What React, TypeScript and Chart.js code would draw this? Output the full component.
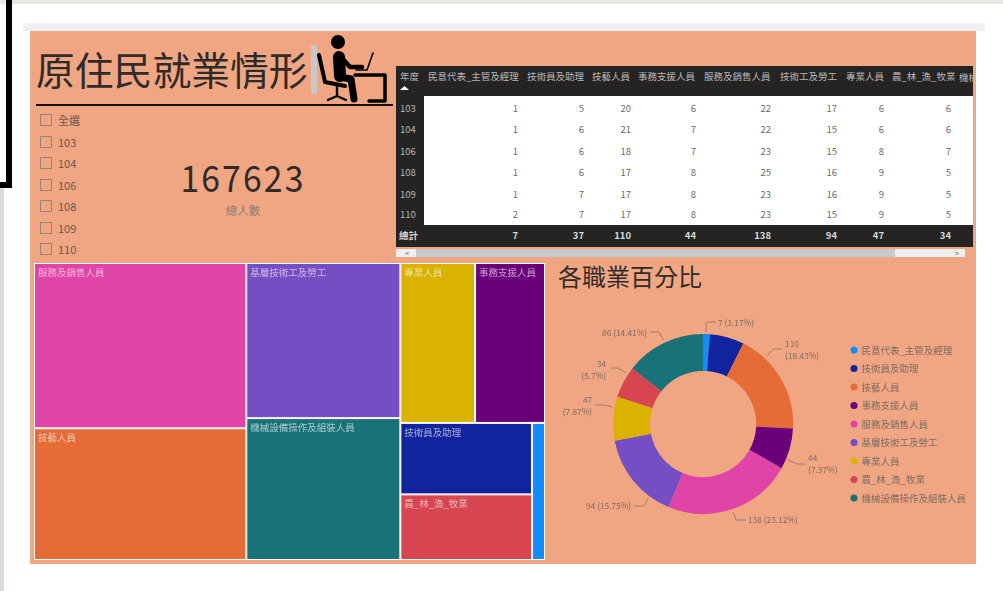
import React, { useEffect, useRef } from "react";
import { Chart, registerables } from "chart.js";

Chart.register(...registerables);

const FONT = '"Noto Sans CJK TC", "Noto Sans", sans-serif';
const BG = "#F0A683";
const INK = "#2f2b29";
const MUTED = "#7d6b60";

const categories = ["民意代表_主管及經理", "技術員及助理", "技藝人員", "事務支援人員", "服務及銷售人員", "基層技術工及勞工", "專業人員", "農_林_漁_牧業", "機械設備操作及組裝人員"];
const totals = [7, 37, 110, 44, 138, 94, 47, 34, 86];
const colors = ["#118DFF", "#12239E", "#E66C37", "#6B007B", "#E044A7", "#744EC2", "#D9B300", "#D64550", "#197278"];

const years = ["103", "104", "106", "108", "109", "110"];
const yearFilter = ["全選", ...years];
const tableHeaders = ["民意代表_主管及經理", "技術員及助理", "技藝人員", "事務支援人員", "服務及銷售人員", "技術工及勞工", "專業人員", "農_林_漁_牧業"];
const col1 = [1, 1, 1, 1, 1, 2];
const col2 = [5, 6, 6, 6, 7, 7];
const col3 = [20, 21, 18, 17, 17, 17];
const col4 = [6, 7, 7, 8, 8, 8];
const col5 = [22, 22, 23, 25, 23, 23];
const col6 = [17, 15, 15, 16, 16, 15];
const col7 = [6, 6, 8, 9, 9, 9];
const col8 = [6, 6, 7, 5, 5, 5];
const tableColumns = [col1, col2, col3, col4, col5, col6, col7, col8];
const tableTotals = [7, 37, 110, 44, 138, 94, 47, 34];
const totalPeople = "167623";

// Horizontal start / right edge of each table column (layout, page pixels)
const colLeft = [428, 527, 592, 638, 704, 780, 846, 892];
const colRight = [518, 584, 631, 696, 771, 837, 884, 951];
const rowY = [109, 130, 152, 173, 194.5, 215];

// Treemap nesting: [column [row [category indexes]]]
const treeColumns = [
  [[4], [2]],
  [[5], [8]],
  [[6, 3], [[1, 7], 0]],
];

// Leader-line layout of the doughnut's annotations, relative to the arc centre
const leaderLayout: Record<number, { pts: number[][]; lines: 1 | 2; align: "left" | "right"; tx: number; ty: number }> = {
  0: { pts: [[3, -92], [3, -102], [13, -102]], lines: 1, align: "left", tx: 15, ty: -101 },
  2: { pts: [[64, -68], [70, -75], [79, -75]], lines: 2, align: "left", tx: 82, ty: -80 },
  3: { pts: [[85, 36], [94, 40], [103, 40]], lines: 2, align: "left", tx: 105, ty: 34 },
  4: { pts: [[30, 88], [33, 96], [43, 96]], lines: 1, align: "left", tx: 45, ty: 96 },
  5: { pts: [[-55, 74], [-59, 82], [-69, 82]], lines: 1, align: "right", tx: -72, ty: 82 },
  6: { pts: [[-91, -17], [-98, -19], [-108, -19]], lines: 2, align: "right", tx: -111, ty: -24 },
  7: { pts: [[-77, -51], [-85, -56], [-93, -56]], lines: 2, align: "right", tx: -97, ty: -60 },
  8: { pts: [[-40, -84], [-44, -92], [-53, -92]], lines: 1, align: "right", tx: -56, ty: -91 },
};

const sum = (a: number[]) => a.reduce((s, v) => s + v, 0);

function leafSum(n: any): number {
  return Array.isArray(n) ? n.reduce((s: number, c: any) => s + leafSum(c), 0) : totals[n];
}

type Cell = { x0: number; x1: number; y0: number; y1: number; idx: number; x: number; y: number };

function layoutCells(): Cell[] {
  const out: Cell[] = [];
  const walk = (n: any, x0: number, x1: number, y0: number, y1: number, horiz: boolean) => {
    if (!Array.isArray(n)) {
      out.push({ x0, x1, y0, y1, idx: n, x: (x0 + x1) / 2, y: (y0 + y1) / 2 });
      return;
    }
    const t = leafSum(n);
    let pos = horiz ? x0 : y0;
    const span = horiz ? x1 - x0 : y1 - y0;
    n.forEach((c: any) => {
      const d = (leafSum(c) / t) * span;
      if (horiz) walk(c, pos, pos + d, y0, y1, false);
      else walk(c, x0, x1, pos, pos + d, true);
      pos += d;
    });
  };
  let xp = 0;
  treeColumns.forEach((col) => {
    const w = leafSum(col);
    walk(col, xp, xp + w, 0, 1, false);
    xp += w;
  });
  return out;
}

const treemapPlugin = {
  id: "treemapCells",
  afterDatasetsDraw(chart: any) {
    const { ctx, scales } = chart;
    const data: Cell[] = chart.data.datasets[0].data;
    ctx.save();
    data.forEach((c) => {
      const l = scales.x.getPixelForValue(c.x0);
      const r = scales.x.getPixelForValue(c.x1);
      const t = scales.y.getPixelForValue(c.y0);
      const b = scales.y.getPixelForValue(c.y1);
      ctx.fillStyle = "#ffffff";
      ctx.fillRect(l, t, r - l, b - t);
      ctx.fillStyle = colors[c.idx];
      ctx.fillRect(l + 1, t + 1, r - l - 2, b - t - 2);
      if (r - l > 40) {
        ctx.fillStyle = "rgba(255,255,255,0.62)";
        ctx.font = `9.5px ${FONT}`;
        ctx.textBaseline = "middle";
        ctx.textAlign = "left";
        ctx.fillText(categories[c.idx], l + 4, t + 9);
      }
    });
    ctx.restore();
  },
};

const donutLabelsPlugin = {
  id: "donutLabels",
  afterDatasetsDraw(chart: any) {
    const { ctx } = chart;
    const arc = chart.getDatasetMeta(0).data[0];
    if (!arc) return;
    const cx = arc.x;
    const cy = arc.y;
    const total = sum(totals);
    ctx.save();
    ctx.font = `8.3px ${FONT}`;
    ctx.textBaseline = "middle";
    ctx.strokeStyle = "#8a7568";
    ctx.fillStyle = MUTED;
    ctx.lineWidth = 0.8;
    totals.forEach((v, i) => {
      const lay = leaderLayout[i];
      if (!lay) return;
      ctx.beginPath();
      lay.pts.forEach((p, k) => (k ? ctx.lineTo(cx + p[0], cy + p[1]) : ctx.moveTo(cx + p[0], cy + p[1])));
      ctx.stroke();
      const pct = parseFloat(((v / total) * 100).toFixed(2));
      ctx.textAlign = lay.align;
      if (lay.lines === 1) {
        ctx.fillText(`${v} (${pct}%)`, cx + lay.tx, cy + lay.ty);
      } else {
        ctx.fillText(`${v}`, cx + lay.tx, cy + lay.ty);
        ctx.fillText(`(${pct}%)`, cx + lay.tx, cy + lay.ty + 12);
      }
    });
    ctx.restore();
  },
};

const abs = (left: number, top: number, extra: React.CSSProperties = {}): React.CSSProperties => ({
  position: "absolute",
  left,
  top,
  ...extra,
});

const box = (left: number, top: number, width: number, height: number, background: string): React.CSSProperties => ({
  position: "absolute",
  left,
  top,
  width,
  height,
  background,
});

function Txt({ x, y, right, center, size = 10, color = INK, bold, children, spacing, scaleX }: any) {
  const s: React.CSSProperties = {
    position: "absolute",
    top: y,
    transform: `translate(${center ? "-50%" : right ? "-100%" : "0"}, -50%)${scaleX ? ` scaleX(${scaleX})` : ""}`,
    left: x,
    fontSize: size,
    color,
    fontWeight: bold ? 700 : 400,
    whiteSpace: "nowrap",
    lineHeight: 1,
    letterSpacing: spacing,
    fontFamily: FONT,
  };
  return <div style={s}>{children}</div>;
}

export default function App() {
  const treeRef = useRef<HTMLCanvasElement>(null);
  const donutRef = useRef<HTMLCanvasElement>(null);

  useEffect(() => {
    document.body.style.margin = "0";
    const tree = new Chart(treeRef.current!, {
      type: "scatter",
      data: { datasets: [{ data: layoutCells() as any, pointRadius: 0 }] },
      options: {
        animation: false,
        responsive: false,
        events: [],
        layout: { padding: 0 },
        plugins: { legend: { display: false }, tooltip: { enabled: false } },
        scales: {
          x: { type: "linear", display: false, min: 0, max: sum(totals) },
          y: { type: "linear", display: false, min: 0, max: 1, reverse: true },
        },
      },
      plugins: [treemapPlugin],
    } as any);
    const donut = new Chart(donutRef.current!, {
      type: "doughnut",
      data: {
        labels: categories,
        datasets: [{ data: totals, backgroundColor: colors, borderWidth: 0 }],
      },
      options: {
        animation: false,
        responsive: false,
        events: [],
        cutout: "59%",
        layout: { padding: { top: 60, bottom: 60, left: 4, right: 0 } },
        plugins: {
          tooltip: { enabled: false },
          legend: {
            position: "right",
            align: "center",
            labels: {
              usePointStyle: true,
              pointStyle: "circle",
              boxWidth: 5.5,
              boxHeight: 5,
              padding: 9,
              color: MUTED,
              font: { family: FONT, size: 9.5 },
            },
          },
        },
      },
      plugins: [donutLabelsPlugin],
    } as any);
    return () => {
      tree.destroy();
      donut.destroy();
    };
  }, []);

  return (
    <div
      style={{
        position: "absolute",
        left: 0,
        top: 0,
        width: 1003,
        height: 591,
        overflow: "hidden",
        background: "#fff",
        fontFamily: FONT,
        filter: "blur(0.45px)",
      }}
    >
      {/* Page furniture */}
      <div style={box(0, 0, 1003, 4, "#ece9e4")} />
      <div style={box(23, 23, 962, 8, "#f0f0f0")} />
      <div style={box(0, 188, 4, 403, "#dddbd8")} />
      <div style={box(6, 0, 6, 188, "#000")} />
      <div style={box(0, 182, 12, 6, "#000")} />

      {/* Report canvas */}
      <div style={box(30, 31, 946, 533, BG)} />

      {/* Title */}
      <Txt x={36} y={68} size={38.8} color={INK}>原住民就業情形</Txt>
      <div style={box(311, 45, 6, 49, "#c8c8c8")} />
      <svg style={abs(0, 0)} width={1003} height={120} fill="none" stroke="#000" strokeLinecap="round" strokeLinejoin="round">
        <circle cx={338} cy={42} r={7} fill="#000" stroke="none" />
        <path d="M339 57 L340 76" strokeWidth={12} />
        <path d="M340 77 L351 79 L354 99" strokeWidth={7} />
        <path d="M319 55 L325 82 L345 86" strokeWidth={4} />
        <path d="M337 86 L337 96 M328 100 L337 96 L346 100" strokeWidth={2.4} />
        <path d="M342 58 L350 67 L362 67" strokeWidth={4.5} />
        <path d="M373 53 L367 70 L356 70" strokeWidth={1.6} />
        <path d="M355 75 L385 75 L385 101 L369 101" strokeWidth={3.5} />
      </svg>
      <div style={box(36, 104, 357, 1.6, "#111")} />

      {/* Slicer */}
      {yearFilter.map((y, i) => {
        const cy = [120, 142, 163, 185, 206, 228, 249][i];
        return (
          <React.Fragment key={y}>
            <div style={{ ...box(40, cy - 6, 12, 12, "transparent"), border: "1px solid #9a8274", boxSizing: "border-box" }} />
            <Txt x={58} y={cy - 0.5} size={11} color="#66584e">{y}</Txt>
          </React.Fragment>
        );
      })}

      {/* KPI card */}
      <Txt x={243} y={176} center size={37} color={INK} spacing="2.4px" scaleX={0.91}>{totalPeople}</Txt>
      <Txt x={243} y={211} center size={11.5} color="#8f7c70">總人數</Txt>

      {/* Table */}
      <div style={box(396, 66, 577, 181, "#252423")} />
      <div style={box(424, 96, 549, 129, "#ffffff")} />
      <Txt x={400} y={77} size={9.5} color="#b8b8b8">年度</Txt>
      <svg style={abs(399, 85)} width={12} height={6}>
        <path d="M1 5 L5.5 1 L10 5 Z" fill="#fff" />
      </svg>
      {tableHeaders.map((h, i) => (
        <Txt key={h} x={colLeft[i]} y={77} size={9.5} color="#b8b8b8">{h}</Txt>
      ))}
      <div style={{ position: "absolute", left: 959, top: 72, width: 14, height: 11, overflow: "hidden", fontSize: 9.5, lineHeight: "11px", color: "#b8b8b8", whiteSpace: "nowrap" }}>機械設備</div>
      {years.map((y, r) => (
        <Txt key={y} x={400} y={rowY[r]} size={9.5} color="#b8b8b8">{y}</Txt>
      ))}
      {tableColumns.map((col, c) =>
        col.map((v, r) => (
          <Txt key={`${c}-${r}`} x={colRight[c]} y={rowY[r]} right size={9.5} color="#6b6b6b">{v}</Txt>
        )),
      )}
      <Txt x={399} y={236} size={9.5} bold color="#d8d8d8">總計</Txt>
      {tableTotals.map((v, c) => (
        <Txt key={c} x={colRight[c]} y={236} right size={9.5} bold color="#d8d8d8">{v}</Txt>
      ))}
      <div style={box(396, 249, 569, 8, "#eeeeee")} />
      <div style={box(416, 249, 479, 8, "#c9c9c9")} />
      <Txt x={405} y={252.5} size={7} color="#666">&lt;</Txt>
      <Txt x={955} y={252.5} size={7} color="#666">&gt;</Txt>

      {/* Treemap */}
      <canvas ref={treeRef} width={511} height={297} style={abs(34, 263, { width: 511, height: 297 })} />

      {/* Doughnut */}
      <Txt x={558} y={276} size={24} color={INK}>各職業百分比</Txt>
      <canvas ref={donutRef} width={416} height={300} style={abs(560, 274, { width: 416, height: 300 })} />
    </div>
  );
}
